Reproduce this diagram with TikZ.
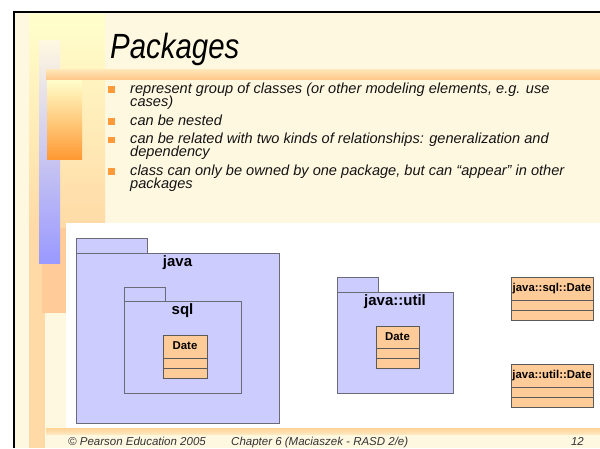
\documentclass[tikz,border=0pt]{standalone}
\usepackage{fontspec}
\usepackage{graphicx}
\setmainfont{Liberation Sans}
\definecolor{cream}{HTML}{FFF8E1}
\definecolor{paleyellow}{HTML}{FFFFCC}
\definecolor{peach}{HTML}{FFCC99}
\definecolor{lightpeach}{HTML}{FFDAA6}
\definecolor{orangebox}{HTML}{FF9933}
\definecolor{lavender}{HTML}{CCCCFF}
\definecolor{barblue}{HTML}{9999FF}
\definecolor{pkgline}{HTML}{6A6A78}
\definecolor{clsline}{HTML}{5A5A5A}
\definecolor{bulletorange}{HTML}{FF9A3A}
\definecolor{footgray}{HTML}{333333}
\tikzset{
  txt/.style={inner sep=0pt, anchor=base west, font=\fontsize{14.6}{16}\selectfont\itshape, text=black!92},
  bulletsq/.style={fill=bulletorange, draw=none, minimum size=6.5pt, inner sep=0pt},
  pkg/.style={draw=pkgline, fill=lavender, line width=1pt, inner sep=0pt, outer sep=0pt},
  pkglabel/.style={inner sep=0pt, anchor=base, font=\fontsize{15}{17}\selectfont\bfseries},
  cls/.style={draw=clsline, fill=peach, line width=1pt, inner sep=0pt, outer sep=0pt, anchor=north west},
  clslabel/.style={inner sep=0pt, anchor=base, font=\fontsize{11.4}{13}\selectfont\bfseries},
  compart/.style={draw=clsline, line width=1pt},
  foot/.style={inner sep=0pt, font=\fontsize{11.5}{13}\selectfont\itshape, text=footgray}
}
\begin{document}
\begin{tikzpicture}[x=1pt,y=-1pt]
\useasboundingbox (0,0) rectangle (600,448);
\clip (0,0) rectangle (600,448);

% slide background and frame
\fill[white] (0,0) rectangle (600,448);
\fill[cream] (14,12) rectangle (600,448);

% decorative blocks along the left edge
\shade[top color=paleyellow, bottom color=lightpeach] (29,14) rectangle (105,228);
\fill[lightpeach] (29,228) rectangle (45,448);
\fill[peach] (42,228) rectangle (66,313);
\shade[top color=cream, bottom color=barblue] (39,40) rectangle (60,263);
\shade[top color=paleyellow, bottom color=orangebox] (47,79) rectangle (82,159);
\shade[top color={rgb,255:red,255;green,232;blue,185}, bottom color={rgb,255:red,255;green,200;blue,140}] (46,69) rectangle (600,79);

% diagram canvas and the band below it
\fill[white] (66,223) rectangle (600,428);
\shade[top color={rgb,255:red,255;green,210;blue,150}, bottom color={rgb,255:red,255;green,232;blue,190}] (46,428) rectangle (600,434);

% frame lines
\fill[black] (13,11) rectangle (600,13);
\fill[black] (13,11) rectangle (15,448);

% title
\node[inner sep=0pt, anchor=base west] (title) at (110,58)
  {\scalebox{0.84}[1]{\fontsize{35}{40}\selectfont\itshape Packages}};

% bullet list
\node[bulletsq] (b1) at (111.5,89.5) {};
\node[txt] (t1a) at (130,93) {represent group of classes (or other modeling elements, e.g. use};
\node[txt] (t1b) at (130,106.5) {cases)};
\node[bulletsq] (b2) at (111.5,121.5) {};
\node[txt] (t2) at (130,125) {can be nested};
\node[bulletsq] (b3) at (111.5,139.8) {};
\node[txt] (t3a) at (130,143.3) {can be related with two kinds of relationships: generalization and};
\node[txt] (t3b) at (130,156.8) {dependency};
\node[bulletsq] (b4) at (111.5,171.5) {};
\node[txt] (t4a) at (130,175) {class can only be owned by one package, but can “appear” in other};
\node[txt] (t4b) at (130,188.5) {packages};

% package java with nested package sql
\node[pkg, anchor=north west, minimum width=203pt, minimum height=170pt] (java) at (76,253) {};
\node[pkg, anchor=south west, minimum width=71pt, minimum height=15pt] (javatab) at (java.north west) {};
\node[pkglabel] (javalbl) at (177.5,266) {java};

\node[pkg, anchor=north west, minimum width=117pt, minimum height=92pt] (sql) at (124,301) {};
\node[pkg, anchor=south west, minimum width=41pt, minimum height=14pt] (sqltab) at (sql.north west) {};
\node[pkglabel] (sqllbl) at (182.5,314) {sql};

\node[cls, minimum width=44pt, minimum height=43pt] (sqldate) at (163,335) {};
\draw[compart] ([yshift=-23pt]sqldate.north west) -- ([yshift=-23pt]sqldate.north east);
\draw[compart] ([yshift=-33pt]sqldate.north west) -- ([yshift=-33pt]sqldate.north east);
\node[clslabel] (sqldatelbl) at ([yshift=-14pt]sqldate.north) {Date};

% package java::util
\node[pkg, anchor=north west, minimum width=116pt, minimum height=101pt] (util) at (337,292) {};
\node[pkg, anchor=south west, minimum width=41pt, minimum height=15pt] (utiltab) at (util.north west) {};
\node[pkglabel] (utillbl) at (395,305) {java::util};

\node[cls, minimum width=43pt, minimum height=42pt] (utildate) at (376,326) {};
\draw[compart] ([yshift=-22pt]utildate.north west) -- ([yshift=-22pt]utildate.north east);
\draw[compart] ([yshift=-32pt]utildate.north west) -- ([yshift=-32pt]utildate.north east);
\node[clslabel] (utildatelbl) at ([yshift=-14pt]utildate.north) {Date};

% classes shown with qualified names
\node[cls, minimum width=82pt, minimum height=43pt] (jsd) at (511,277) {};
\draw[compart] ([yshift=-23pt]jsd.north west) -- ([yshift=-23pt]jsd.north east);
\draw[compart] ([yshift=-33pt]jsd.north west) -- ([yshift=-33pt]jsd.north east);
\node[clslabel] (jsdlbl) at ([yshift=-14.5pt]jsd.north) {java::sql::Date};

\node[cls, minimum width=82pt, minimum height=43pt] (jud) at (511,364) {};
\draw[compart] ([yshift=-23pt]jud.north west) -- ([yshift=-23pt]jud.north east);
\draw[compart] ([yshift=-33pt]jud.north west) -- ([yshift=-33pt]jud.north east);
\node[clslabel] (judlbl) at ([yshift=-14.5pt]jud.north) {java::util::Date};

% footer
\node[foot, anchor=base west] (f1) at (68,445.5) {© Pearson Education 2005};
\node[foot, anchor=base west] (f2) at (231,445.5) {Chapter 6 (Maciaszek - RASD 2/e)};
\node[foot, anchor=base east] (f3) at (584,445.5) {12};
\end{tikzpicture}
\end{document}
